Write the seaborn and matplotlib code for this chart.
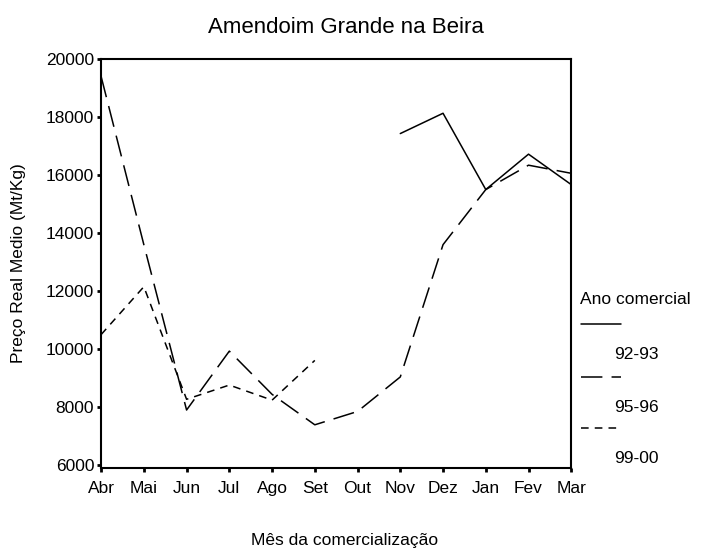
import seaborn as sns
import pandas as pd
import numpy as np
import matplotlib.pyplot as plt
from matplotlib.lines import Line2D

meses = ["Abr", "Mai", "Jun", "Jul", "Ago", "Set", "Out", "Nov", "Dez", "Jan", "Fev", "Mar"]
anos = ["92-93", "95-96", "99-00"]
preco_92_93 = [None, None, None, None, None, None, None, 17430, 18130, 15500, 16720, 15670]
preco_95_96 = [19400, 13600, 7900, 9930, 8440, 7390, 7850, 9040, 13600, 15500, 16340, 16060]
preco_99_00 = [10500, 12150, 8270, 8760, 8240, 9610, None, None, None, None, None, None]

rows = []
for ano, vals in zip(anos, [preco_92_93, preco_95_96, preco_99_00]):
    for i, v in enumerate(vals):
        if v is not None:
            rows.append({"mes": i, "preco": v, "ano": ano})
df = pd.DataFrame(rows)

sns.set_style("white", {"text.color": "black", "axes.labelcolor": "black",
                        "xtick.color": "black", "ytick.color": "black"})
plt.rcParams["font.family"] = ["Liberation Sans", "DejaVu Sans"]

dashes = {"92-93": "", "95-96": (14, 6), "99-00": (5, 4)}

fig = plt.figure(figsize=(7.07, 5.49), dpi=100)
ax = fig.add_axes([0.143, 0.1475, 0.665, 0.745])
sns.lineplot(
    data=df, x="mes", y="preco", style="ano", dashes=dashes,
    color="black", linewidth=1.1, ax=ax, legend=False, sort=False,
)
ax.set_xlim(0, len(meses) - 1)
ax.set_ylim(5900, 20000)
ax.set_xticks(range(len(meses)))
ax.set_xticklabels(meses, fontsize=12.5)
ax.set_yticks(range(6000, 20001, 2000))
ax.set_yticklabels([str(t) for t in range(6000, 20001, 2000)], fontsize=12.5)
ax.tick_params(axis="both", length=3, width=2, color="black", labelcolor="black",
               direction="out", pad=2)
ax.tick_params(axis="x", bottom=True, top=False, pad=6)
ax.tick_params(axis="y", left=True, right=False)
for s in ax.spines.values():
    s.set_color("black")
    s.set_linewidth(1.5)
ax.set_xlabel("")
ax.set_ylabel("Preço Real Medio (Mt/Kg)", fontsize=12.5, labelpad=14, color="black")
ax.set_title("Amendoim Grande na Beira", fontsize=16, pad=19, x=0.52, color="black")
fig.text(0.487, 0.0146, "Mês da comercialização", ha="center", va="center",
         fontsize=12.5, color="black")

# legenda manual
fig.text(0.82, 0.455, "Ano comercial", fontsize=12.5, va="center", ha="left", color="black")
leg_y = [0.41, 0.313, 0.22]
for ano, yy in zip(anos, leg_y):
    ls = dashes[ano]
    l = Line2D([0.822, 0.878], [yy, yy], transform=fig.transFigure, color="black", linewidth=1.1)
    if ls:
        l.set_dashes(ls)
    fig.lines.append(l)
    fig.text(0.868, yy - 0.055, ano, fontsize=12.5, va="center", ha="left", color="black")

fig.savefig("out.png", dpi=100)
